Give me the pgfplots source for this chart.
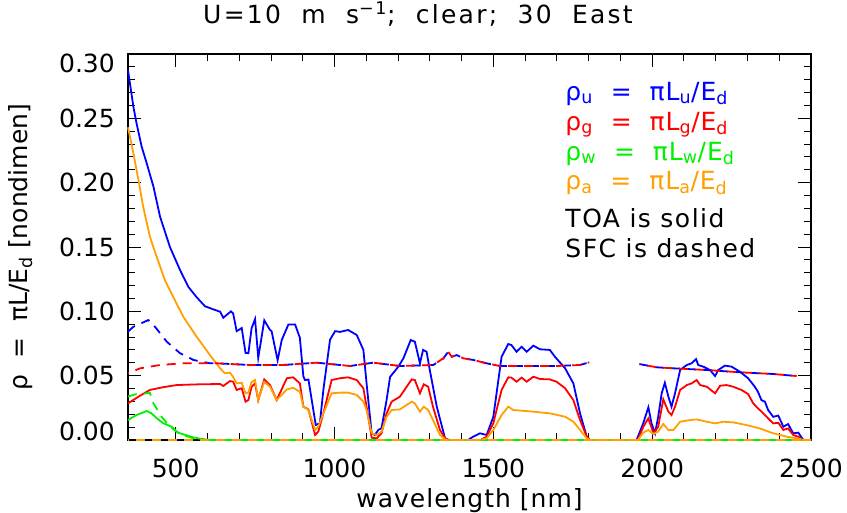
\documentclass[border=0pt]{standalone}
\usepackage{fontspec}
\setmainfont{DejaVu Sans}
\usepackage{pgfplots}
\pgfplotsset{compat=1.18}
\definecolor{idlorange}{RGB}{255,160,0}
\definecolor{idlgreen}{RGB}{0,240,0}
\newcommand{\idlfont}{\fontsize{25}{30}\selectfont}
\newcommand{\idlwide}[1]{\fontsize{25}{30}\selectfont\addfontfeature{LetterSpace=#1}}

\begin{document}
\begin{tikzpicture}
\useasboundingbox (-128pt,-73pt) rectangle (719pt,440pt);
\begin{axis}[
    at={(0pt,0pt)}, anchor=south west,
    width=683pt, height=386pt, scale only axis,
    xmin=350, xmax=2500, ymin=0, ymax=0.30,
    xtick={500,1000,1500,2000,2500},
    ytick={0,0.05,0.10,0.15,0.20,0.25,0.30},
    yticklabels={\raisebox{9pt}[\height][\depth]{0.00},0.05,0.10,0.15,0.20,0.25,\raisebox{-9pt}[\height][\depth]{0.30}},
    minor x tick num=4, minor y tick num=4,
    tick pos=both,
    major tick length=13pt, minor tick length=7pt,
    every tick/.style={black, line width=0.9pt},
    axis line style={line width=1.2pt},
    clip=false,
    unbounded coords=jump,
    every axis plot/.append style={line width=1.8pt},
    /pgf/number format/assume math mode=true,
    tick label style={font=\idlfont},
    xticklabel style={/pgf/number format/1000 sep={}, anchor=base, yshift=-38pt},
    yticklabel style={anchor=east, inner sep=0pt, xshift=-13pt},
    title={U=10\ \ m\ \ s\textsuperscript{−1};\ \ clear;\ \ 30\ \ East},
    title style={font=\idlwide{9}, at={(axis description cs:0.4246,1.0622)}, anchor=base},
    xlabel={wavelength [nm]},
    xlabel style={font=\idlwide{4}, at={(axis description cs:0.5,-0.1736)}, anchor=base},
    ylabel={ρ\ \ =\ \ πL/E\textsubscript{d}\ [nondimen]},
    ylabel style={font=\idlfont, at={(axis description cs:-0.1567,0.5)}, anchor=center},
]

% TOA (solid)
\addplot[blue] coordinates {
(350,0.2875) (367,0.259) (377,0.246) (393,0.228) (409,0.215) (430,0.197)
(451,0.1735) (482,0.150) (514,0.132) (540,0.119) (566,0.111) (592,0.104)
(619,0.1015) (640,0.0997) (650,0.095) (674,0.100) (681,0.0984)
(692,0.0846) (708,0.087) (720,0.0677) (729,0.0674) (739,0.0868) (750,0.094)
(760,0.0638) (779,0.093) (797,0.0855) (802,0.0846) (821,0.062) (834,0.0777)
(855,0.0898) (876,0.0898) (891,0.0794) (902,0.0495) (907,0.0466)
(918,0.047) (941,0.0117) (954,0.013) (965,0.0389) (986,0.078) (1002,0.0846)
(1017,0.084) (1043,0.0855) (1070,0.0816) (1091,0.070) (1101,0.044) (1117,0.0052)
(1127,0.0039) (1138,0.0078) (1148,0.0091) (1164,0.031) (1175,0.049) (1201,0.057)
(1217,0.0635) (1240,0.0777) (1253,0.0764) (1269,0.0596) (1279,0.070) (1290,0.0686)
(1300,0.0544) (1322,0.0259) (1348,0.0013) (1360,0) (1420,0) (1437,0.0026)
(1458,0.0052) (1479,0.0039) (1500,0.018) (1526,0.0647) (1547,0.0746) (1557,0.0738)
(1573,0.0686) (1589,0.0725) (1605,0.0686) (1626,0.0733) (1647,0.0705) (1678,0.070)
(1694,0.0647) (1726,0.0557) (1752,0.044) (1773,0.0207) (1794,0.0026) (1804,0)
(1951,0) (1972,0.013) (1988,0.0254) (1998,0.013) (2009,0.0052) (2019,0.018)
(2030,0.0363) (2040,0.0445) (2051,0.0337) (2061,0.0259) (2072,0.0363) (2088,0.0544)
(2109,0.0583) (2124,0.0596) (2138,0.0629) (2145,0.0583) (2161,0.057) (2182,0.0544)
(2198,0.0497) (2208,0.0544) (2229,0.0578) (2250,0.057) (2276,0.0531) (2302,0.048)
(2323,0.0414) (2333,0.0375) (2344,0.031) (2355,0.0298) (2365,0.0233) (2381,0.018)
(2397,0.019) (2413,0.0103) (2428,0.0124) (2444,0.0052) (2460,0.0057) (2476,0) (2500,0)
};
\addplot[red] coordinates {
(350,0.0285) (385,0.034) (419,0.0389) (460,0.041) (503,0.0427) (577,0.0433)
(640,0.0435) (650,0.042) (671,0.0458) (681,0.0453) (692,0.0389) (708,0.0402)
(720,0.0298) (729,0.031) (739,0.0414) (750,0.044) (760,0.031) (779,0.0471)
(797,0.0427) (818,0.031) (850,0.048) (870,0.0487) (891,0.044) (902,0.0259)
(918,0.0238) (939,0.0039) (949,0.0065) (965,0.0207) (991,0.0466) (1017,0.048)
(1043,0.0487) (1070,0.0466) (1091,0.0402) (1101,0.0259) (1117,0.0018) (1133,0.0013)
(1148,0.0052) (1164,0.0207) (1180,0.0298) (1206,0.0337) (1243,0.0471) (1253,0.0466)
(1269,0.0363) (1281,0.0433) (1295,0.0414) (1310,0.0259) (1332,0.0078) (1348,0.0013)
(1360,0) (1460,0) (1479,0.0026) (1500,0.013) (1526,0.0389) (1547,0.0487)
(1557,0.0485) (1573,0.0453) (1589,0.0485) (1605,0.0453) (1626,0.0492) (1647,0.0474)
(1678,0.0471) (1699,0.0453) (1726,0.0402) (1752,0.031) (1773,0.0155) (1794,0.0026)
(1804,0) (1955,0) (1972,0.0103) (1988,0.0168) (2004,0.0052) (2019,0.0103)
(2035,0.0316) (2051,0.022) (2061,0.0194) (2072,0.0259) (2088,0.0389) (2109,0.0427)
(2124,0.044) (2140,0.0466) (2151,0.0427) (2172,0.0414) (2198,0.0363) (2214,0.0422)
(2234,0.0427) (2255,0.0414) (2281,0.0389) (2302,0.0357) (2318,0.0285) (2333,0.0246)
(2350,0.0207) (2365,0.0168) (2381,0.0129) (2397,0.0134) (2413,0.0078) (2428,0.009)
(2444,0.0039) (2460,0.0026) (2476,0) (2500,0)
};
\addplot[idlgreen] coordinates {
(350,0.0155) (377,0.0194) (409,0.0225) (424,0.0207) (440,0.017) (461,0.013)
(488,0.0103) (503,0.0065) (514,0.0052) (556,0.002) (598,0) (2500,0)
};
\addplot[idlorange] coordinates {
(350,0.243) (367,0.2228) (383,0.202) (398,0.181) (419,0.158) (440,0.1425)
(466,0.1243) (493,0.111) (524,0.0958) (566,0.0803) (608,0.066) (640,0.0557)
(655,0.0518) (671,0.0523) (681,0.049) (692,0.044) (708,0.0445) (720,0.0363)
(729,0.0368) (739,0.0451) (750,0.0466) (760,0.031) (779,0.0451) (797,0.0414)
(818,0.031) (850,0.0393) (870,0.0406) (891,0.0375) (902,0.0259) (918,0.0233)
(939,0.0078) (949,0.0104) (965,0.0207) (991,0.0363) (1017,0.0368) (1043,0.0368)
(1070,0.035) (1091,0.0298) (1101,0.0233) (1117,0.0052) (1133,0.0039) (1148,0.0065)
(1164,0.018) (1180,0.0233) (1206,0.0238) (1243,0.0298) (1253,0.0285) (1269,0.022)
(1281,0.0259) (1295,0.0233) (1310,0.0155) (1332,0.0039) (1348,0.0005) (1360,0)
(1460,0) (1479,0.0013) (1500,0.0078) (1526,0.0194) (1547,0.0259) (1563,0.0233)
(1589,0.0228) (1626,0.022) (1678,0.0207) (1726,0.0181) (1752,0.0142) (1773,0.0078)
(1794,0.0013) (1804,0) (1955,0) (1972,0.0057) (1988,0.0078) (2004,0.0047)
(2019,0.0065) (2035,0.0124) (2051,0.0078) (2067,0.0078) (2088,0.0142) (2119,0.0155)
(2140,0.016) (2172,0.0142) (2198,0.0129) (2224,0.0142) (2255,0.0137) (2297,0.0116)
(2339,0.009) (2381,0.0052) (2423,0.0026) (2455,0.0013) (2476,0) (2500,0)
};

% SFC (dashed)
\addplot[blue, dash pattern=on 9pt off 7pt] coordinates {
(350,0.0842) (367,0.088) (414,0.0932) (435,0.088) (472,0.0764) (514,0.0674)
(556,0.0622) (608,0.0596) (629,0.0596) (734,0.0583) (839,0.0583) (944,0.0601)
(1049,0.0575) (1122,0.0601) (1206,0.0575) (1311,0.0583) (1343,0.0635) (1358,0.0686)
(1369,0.0647) (1385,0.066) (1405,0.0635) (1437,0.0622) (1479,0.0596) (1521,0.0575)
(1594,0.0575) (1699,0.0575) (1773,0.0583) (1802,0.0604) (1880,nan)
(1960,0.059) (2014,0.0565) (2067,0.0557) (2172,0.0544) (2276,0.0526) (2381,0.0513)
(2455,0.0497)
};
\addplot[red, dash pattern=on 9pt off 7pt, dash phase=8pt] coordinates {
(350,0.0518) (388,0.0557) (451,0.0583) (524,0.0596) (629,0.0596) (734,0.0583)
(839,0.0583) (944,0.0601) (1049,0.0575) (1122,0.0601) (1206,0.0575) (1311,0.0583)
(1343,0.0635) (1358,0.0686) (1369,0.0647) (1385,0.066) (1405,0.0635) (1437,0.0622)
(1479,0.0596) (1521,0.0575) (1594,0.0575) (1699,0.0575) (1773,0.0583) (1802,0.0604)
(1880,nan)
(1960,0.059) (2014,0.0565) (2067,0.0557) (2172,0.0544) (2276,0.0526) (2381,0.0513)
(2455,0.0497)
};
\addplot[idlgreen, dash pattern=on 9pt off 7pt] coordinates {
(350,0.0338) (377,0.0357) (419,0.0365) (430,0.0285) (456,0.018) (482,0.0103)
(514,0.0045) (556,0.0013) (600,0.0003) (630,0) (2500,0)
};
\addplot[idlorange, dash pattern=on 9pt off 7pt, dash phase=8pt] coordinates {
(350,0) (2500,0)
};

% labels
\node[anchor=base west, text=blue, font=\idlwide{4}] at (axis cs:1716,0.2642)
  {ρ\textsubscript{u}\ \ =\ \ πL\textsubscript{u}/E\textsubscript{d}};
\node[anchor=base west, text=red, font=\idlwide{4}] at (axis cs:1716,0.2409)
  {ρ\textsubscript{g}\ \ =\ \ πL\textsubscript{g}/E\textsubscript{d}};
\node[anchor=base west, text=idlgreen, font=\idlwide{4}] at (axis cs:1716,0.2176)
  {ρ\textsubscript{w}\ \ =\ \ πL\textsubscript{w}/E\textsubscript{d}};
\node[anchor=base west, text=idlorange, font=\idlwide{4}] at (axis cs:1716,0.1943)
  {ρ\textsubscript{a}\ \ =\ \ πL\textsubscript{a}/E\textsubscript{d}};
\node[anchor=base west, font=\idlwide{6}] at (axis cs:1716,0.1648) {TOA is solid};
\node[anchor=base west, font=\idlwide{6}] at (axis cs:1716,0.1415) {SFC is dashed};
\end{axis}
\end{tikzpicture}
\end{document}
